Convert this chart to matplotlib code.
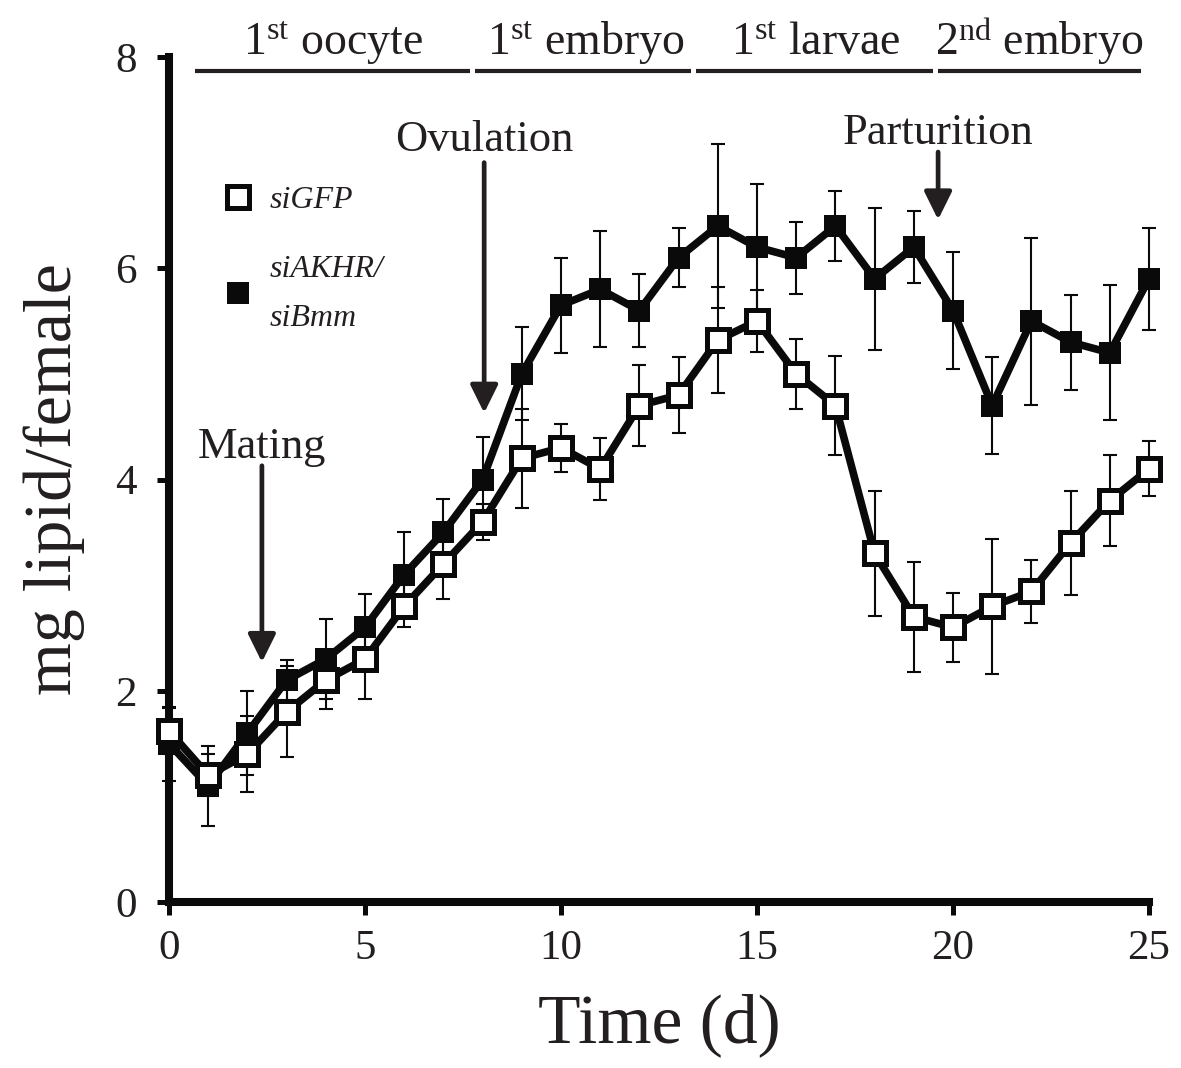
import matplotlib
matplotlib.use("Agg")
import matplotlib.pyplot as plt
from matplotlib.lines import Line2D
import numpy as np

plt.rcParams['font.family'] = ['Liberation Serif', 'DejaVu Serif']
plt.rcParams['mathtext.fontset'] = 'custom'
plt.rcParams['mathtext.rm'] = 'Liberation Serif'
plt.rcParams['mathtext.it'] = 'Liberation Serif:italic'

# ---------------- data ----------------
days = list(range(26))
gfp_mean = [1.62, 1.2, 1.4, 1.8, 2.1, 2.3, 2.8, 3.2, 3.6, 4.2, 4.3, 4.1, 4.7, 4.8,
            5.32, 5.5, 5.0, 4.7, 3.3, 2.7, 2.6, 2.8, 2.94, 3.4, 3.8, 4.1]
gfp_err = [0.22, 0.2, 0.36, 0.43, 0.27, 0.38, 0.2, 0.33, 0.17, 0.47, 0.23, 0.29, 0.38, 0.36,
           0.5, 0.29, 0.33, 0.47, 0.59, 0.52, 0.33, 0.64, 0.3, 0.49, 0.43, 0.26]
akhr_mean = [1.5, 1.1, 1.6, 2.1, 2.3, 2.6, 3.1, 3.5, 4.0, 5.0, 5.65, 5.8, 5.6, 6.1,
             6.4, 6.2, 6.1, 6.4, 5.9, 6.2, 5.6, 4.7, 5.5, 5.3, 5.2, 5.9]
akhr_err = [0.35, 0.38, 0.4, 0.19, 0.38, 0.32, 0.4, 0.32, 0.4, 0.44, 0.45, 0.55, 0.35, 0.28,
            0.78, 0.6, 0.34, 0.33, 0.67, 0.34, 0.55, 0.46, 0.79, 0.45, 0.64, 0.48]

series_labels = ['siGFP', 'siAKHR/\nsiBmm']

stage_labels = ['1$^{\\mathrm{st}}$ oocyte', '1$^{\\mathrm{st}}$ embryo',
                '1$^{\\mathrm{st}}$ larvae', '2$^{\\mathrm{nd}}$ embryo']
stage_start = [0.66, 7.81, 13.45, 19.62]
stage_end = [7.68, 13.32, 19.49, 24.8]
stage_center = [4.17, 10.64, 16.5, 22.2]
stage_bar_y = 7.87
stage_text_y = 8.02

events = ['Mating', 'Ovulation', 'Parturition']
event_x = [2.37, 8.04, 19.62]
event_text_y = [4.31, 7.21, 7.28]
event_from_y = [4.13, 7.0, 7.1]
event_to_y = [2.27, 4.63, 6.46]

xticks = [0, 5, 10, 15, 20, 25]
yticks = [0, 2, 4, 6, 8]

# ---------------- figure ----------------
W, H = 1181, 1068
fig = plt.figure(figsize=(W / 100, H / 100), dpi=100)
ax = fig.add_axes([169 / W, 1 - 902 / H, (1149 - 169) / W, (902 - 57) / H])

ink = '#0a0a0a'
txt = '#231f20'

# error bars
ax.errorbar(days, akhr_mean, yerr=akhr_err, fmt='none', ecolor=ink, elinewidth=1.5,
            capsize=5, capthick=1.5, zorder=2, clip_on=False)
ax.errorbar(days, gfp_mean, yerr=gfp_err, fmt='none', ecolor=ink, elinewidth=1.5,
            capsize=5, capthick=1.5, zorder=2, clip_on=False)

# lines + markers
ax.plot(days, akhr_mean, '-', color=ink, lw=5.5, marker='s', ms=16.5, mfc=ink, mec=ink,
        mew=0, zorder=4, clip_on=False, solid_joinstyle='miter')
ax.plot(days, gfp_mean, '-', color=ink, lw=5.5, marker='s', ms=16, mfc='white', mec=ink,
        mew=3.6, zorder=5, clip_on=False, solid_joinstyle='miter')

ax.set_xlim(0, 25)
ax.set_ylim(0, 8)
ax.set_xticks(xticks)
ax.set_yticks(yticks)
ax.tick_params(axis='both', direction='out', length=9, width=3.6, color=ink,
               labelsize=31, labelcolor=txt)
ax.tick_params(axis='x', pad=11)
ax.tick_params(axis='y', pad=14)
for s in ['top', 'right']:
    ax.spines[s].set_visible(False)
for s in ['left', 'bottom']:
    ax.spines[s].set_linewidth(5.8)
    ax.spines[s].set_color(ink)
    ax.spines[s].set_capstyle('projecting')

ax.set_xlabel('Time (d)', fontsize=50, color=txt, labelpad=18)
ax.set_ylabel('mg lipid/female', fontsize=49, color=txt, labelpad=22)

# stage bars
for a, b, c, lab in zip(stage_start, stage_end, stage_center, stage_labels):
    ax.plot([a, b], [stage_bar_y, stage_bar_y], color=txt, lw=3, clip_on=False,
            solid_capstyle='butt')
    ax.text(c, stage_text_y, lab, ha='center', va='baseline', fontsize=33,
            color=txt, clip_on=False)

# events
for name, x, ty, fy, toy in zip(events, event_x, event_text_y, event_from_y, event_to_y):
    ax.annotate('', xy=(x, toy), xytext=(x, fy),
                arrowprops=dict(arrowstyle='-|>,head_length=0.85,head_width=0.42',
                                mutation_scale=20, lw=3.4, color=txt,
                                shrinkA=0, shrinkB=0))
    ax.text(x, ty, name, ha='center', va='center', fontsize=32, color=txt)

# legend
handles = [
    Line2D([], [], ls='none', marker='s', ms=16, mfc='white', mec=ink, mew=3.6),
    Line2D([], [], ls='none', marker='s', ms=16.5, mfc=ink, mec=ink, mew=0),
]
leg = ax.legend(handles, series_labels, loc='upper left', bbox_to_anchor=(0.054, 0.848),
                frameon=False, prop={'style': 'italic', 'size': 23}, handlelength=1.0,
                handletextpad=0.5, labelspacing=1.25, borderpad=0, borderaxespad=0)
for t in leg.get_texts():
    t.set_linespacing(1.9)
    t.set_color(txt)

fig.savefig('out.png', dpi=100)
